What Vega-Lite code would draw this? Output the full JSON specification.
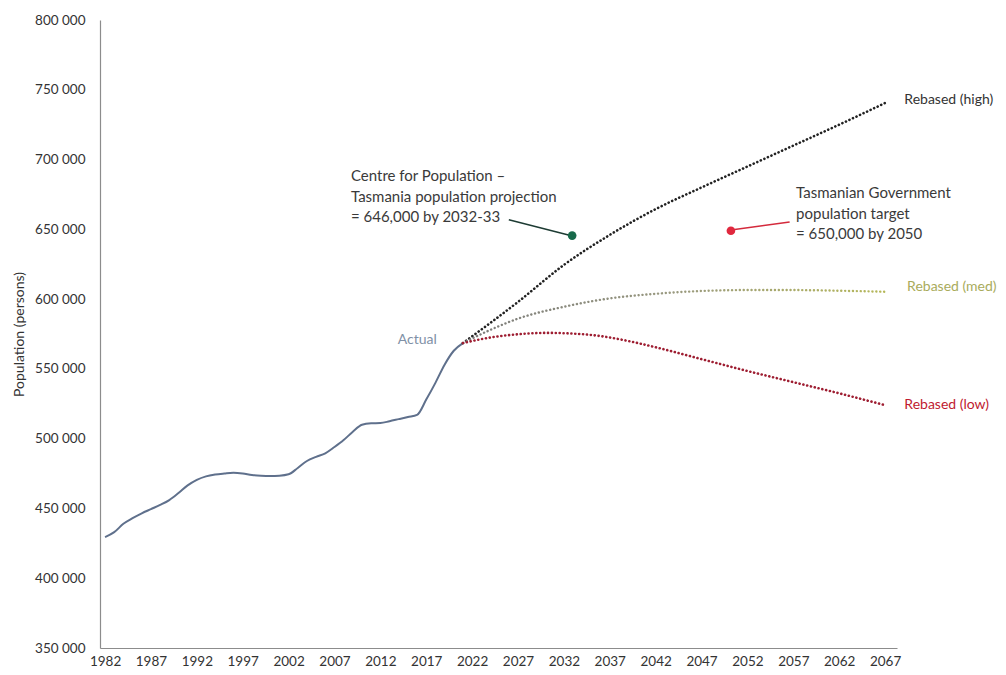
{
  "$schema": "https://vega.github.io/schema/vega-lite/v6.json",
  "width": 797,
  "height": 628,
  "autosize": "none",
  "padding": {"left": 100, "top": 20, "right": 109, "bottom": 27},
  "background": "white",
  "config": {"font": "Lato", "view": {"stroke": null}},
  "datasets": {
    "actual": [
      {"year": 1982, "pop": 429500}, {"year": 1983, "pop": 433000}, {"year": 1984, "pop": 439000},
      {"year": 1985, "pop": 443000}, {"year": 1986, "pop": 446500}, {"year": 1987, "pop": 449500},
      {"year": 1988, "pop": 452500}, {"year": 1989, "pop": 456000}, {"year": 1990, "pop": 461000},
      {"year": 1991, "pop": 466500}, {"year": 1992, "pop": 470500}, {"year": 1993, "pop": 473000},
      {"year": 1994, "pop": 474300}, {"year": 1995, "pop": 475000}, {"year": 1996, "pop": 475500},
      {"year": 1997, "pop": 475000}, {"year": 1998, "pop": 474000}, {"year": 1999, "pop": 473500},
      {"year": 2000, "pop": 473300}, {"year": 2001, "pop": 473500}, {"year": 2002, "pop": 474500},
      {"year": 2003, "pop": 479000}, {"year": 2004, "pop": 484000}, {"year": 2005, "pop": 487000},
      {"year": 2006, "pop": 489500}, {"year": 2007, "pop": 494000}, {"year": 2008, "pop": 499000},
      {"year": 2009, "pop": 505000}, {"year": 2010, "pop": 510000}, {"year": 2011, "pop": 511000},
      {"year": 2012, "pop": 511200}, {"year": 2013, "pop": 512500}, {"year": 2014, "pop": 514000},
      {"year": 2015, "pop": 515500}, {"year": 2016, "pop": 517000}, {"year": 2017, "pop": 528000},
      {"year": 2018, "pop": 540000}, {"year": 2019, "pop": 553000}, {"year": 2020, "pop": 563000},
      {"year": 2021, "pop": 568500}
    ],
    "proj": [
      {"series": "high", "year": 2021, "pop": 568500}, {"series": "high", "year": 2027, "pop": 598000},
      {"series": "high", "year": 2032, "pop": 624500}, {"series": "high", "year": 2037, "pop": 646000},
      {"series": "high", "year": 2042, "pop": 664500}, {"series": "high", "year": 2047, "pop": 680000},
      {"series": "high", "year": 2052, "pop": 695000}, {"series": "high", "year": 2057, "pop": 710000},
      {"series": "high", "year": 2062, "pop": 725000}, {"series": "high", "year": 2067, "pop": 740500},
      {"series": "med", "year": 2021, "pop": 568500}, {"series": "med", "year": 2024, "pop": 578000},
      {"series": "med", "year": 2027, "pop": 586000}, {"series": "med", "year": 2032, "pop": 594500},
      {"series": "med", "year": 2037, "pop": 600500}, {"series": "med", "year": 2042, "pop": 603800},
      {"series": "med", "year": 2047, "pop": 605800}, {"series": "med", "year": 2052, "pop": 606500},
      {"series": "med", "year": 2057, "pop": 606500}, {"series": "med", "year": 2062, "pop": 606000},
      {"series": "med", "year": 2067, "pop": 605300},
      {"series": "low", "year": 2021, "pop": 568500}, {"series": "low", "year": 2024, "pop": 572500},
      {"series": "low", "year": 2027, "pop": 574800}, {"series": "low", "year": 2030, "pop": 575800},
      {"series": "low", "year": 2033, "pop": 575300}, {"series": "low", "year": 2036, "pop": 573500},
      {"series": "low", "year": 2039, "pop": 570000}, {"series": "low", "year": 2042, "pop": 565500},
      {"series": "low", "year": 2047, "pop": 557000}, {"series": "low", "year": 2052, "pop": 548500},
      {"series": "low", "year": 2057, "pop": 540500}, {"series": "low", "year": 2062, "pop": 532500},
      {"series": "low", "year": 2067, "pop": 524000}
    ],
    "leaders": [
      {"who": "cfp", "x": 2026.0, "y": 656800, "x2": 2032.5, "y2": 646000},
      {"who": "gov", "x": 2050.2, "y": 649500, "x2": 2056.6, "y2": 655300}
    ],
    "dots": [
      {"who": "cfp", "year": 2032.9, "pop": 645500},
      {"who": "gov", "year": 2050.2, "pop": 649000}
    ],
    "notes": [
      {"who": "cfp", "year": 2008.8, "pop": 693000, "label": "Centre for Population –\nTasmania population projection\n= 646,000 by 2032-33"},
      {"who": "gov", "year": 2057.3, "pop": 680800, "label": "Tasmanian Government\npopulation target\n= 650,000 by 2050"}
    ],
    "endlabels": [
      {"who": "actual", "year": 2013.9, "pop": 570700, "label": "Actual"},
      {"who": "high", "year": 2069.1, "pop": 742700, "label": "Rebased (high)"},
      {"who": "med", "year": 2069.4, "pop": 608700, "label": "Rebased (med)"},
      {"who": "low", "year": 2069.1, "pop": 524100, "label": "Rebased (low)"}
    ]
  },
  "encoding": {
    "x": {
      "field": "year", "type": "quantitative",
      "scale": {"domain": [1981.45, 2068.3], "nice": false, "zero": false},
      "axis": {
        "values": [1982, 1987, 1992, 1997, 2002, 2007, 2012, 2017, 2022, 2027, 2032, 2037, 2042, 2047, 2052, 2057, 2062, 2067],
        "format": "d", "ticks": false, "grid": false, "domainColor": "#8c8c8c", "domainWidth": 1.2,
        "labelFontSize": 13.5, "labelColor": "#333333", "labelPadding": 6, "title": null, "labelFlush": false
      }
    },
    "y": {
      "field": "pop", "type": "quantitative",
      "scale": {"domain": [350000, 800000], "nice": false, "zero": false},
      "axis": {
        "values": [350000, 400000, 450000, 500000, 550000, 600000, 650000, 700000, 750000, 800000],
        "labelExpr": "replace(format(datum.value, ','), ',', ' ')",
        "ticks": false, "grid": false, "domainColor": "#8c8c8c", "domainWidth": 1.2,
        "labelFontSize": 13.5, "labelColor": "#333333", "labelPadding": 15,
        "title": "Population (persons)", "titleFontSize": 14, "titleFontWeight": "normal",
        "titleColor": "#333333", "titlePadding": 8
      }
    }
  },
  "layer": [
    {
      "data": {"name": "actual"},
      "mark": {"type": "line", "color": "#5f708c", "strokeWidth": 2, "interpolate": "monotone"}
    },
    {
      "data": {"name": "proj"},
      "transform": [{"filter": "datum.series === 'high'"}],
      "mark": {"type": "line", "color": "#222222", "strokeWidth": 2.6, "strokeDash": [0.1, 3.8], "strokeCap": "round", "interpolate": "monotone"}
    },
    {
      "data": {"name": "proj"},
      "transform": [{"filter": "datum.series === 'med'"}],
      "mark": {"type": "line", "strokeWidth": 2.4, "strokeDash": [0.1, 3.8], "strokeCap": "round", "interpolate": "monotone",
        "color": {"gradient": "linear", "x1": 0, "y1": 0, "x2": 1, "y2": 0,
          "stops": [{"offset": 0, "color": "#7a7a7a"}, {"offset": 0.5, "color": "#9a9a80"}, {"offset": 1, "color": "#b6b85a"}]}}
    },
    {
      "data": {"name": "proj"},
      "transform": [{"filter": "datum.series === 'low'"}],
      "mark": {"type": "line", "color": "#9e1e32", "strokeWidth": 2.6, "strokeDash": [0.1, 3.8], "strokeCap": "round", "interpolate": "monotone"}
    },
    {
      "data": {"name": "leaders"},
      "mark": {"type": "rule", "strokeWidth": 1.5},
      "encoding": {
        "x": {"field": "x", "type": "quantitative"},
        "y": {"field": "y", "type": "quantitative"},
        "x2": {"field": "x2"},
        "y2": {"field": "y2"},
        "color": {"field": "who", "type": "nominal", "scale": {"domain": ["cfp", "gov"], "range": ["#1d3b33", "#d42a3c"]}, "legend": null}
      }
    },
    {
      "data": {"name": "dots"},
      "mark": {"type": "circle", "size": 75, "opacity": 1},
      "encoding": {
        "color": {"field": "who", "type": "nominal", "scale": {"domain": ["cfp", "gov"], "range": ["#17694a", "#e0283e"]}, "legend": null}
      }
    },
    {
      "data": {"name": "notes"},
      "mark": {"type": "text", "align": "left", "baseline": "top", "fontSize": 15, "lineHeight": 20.5, "lineBreak": "\n", "color": "#3a3a3a"},
      "encoding": {"text": {"field": "label"}}
    },
    {
      "data": {"name": "endlabels"},
      "mark": {"type": "text", "align": "left", "baseline": "middle", "fontSize": 14},
      "encoding": {
        "text": {"field": "label"},
        "color": {"field": "who", "type": "nominal", "scale": {"domain": ["actual", "high", "med", "low"], "range": ["#8090a6", "#333333", "#a9ab5c", "#c01a30"]}, "legend": null}
      }
    }
  ],
  "resolve": {"scale": {"color": "independent"}}
}
